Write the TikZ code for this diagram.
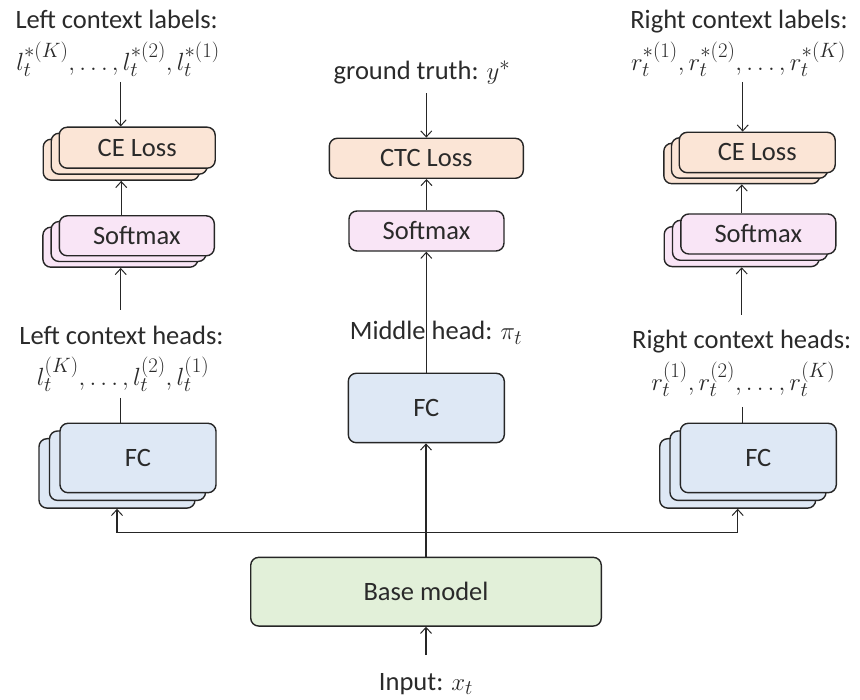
\documentclass[tikz,border=0pt]{standalone}
\usepackage{fontspec}
\setmainfont{Carlito}
\usetikzlibrary{arrows.meta}
\definecolor{txt}{HTML}{2A2A2A}
\definecolor{edge}{HTML}{262626}
\definecolor{lossfill}{HTML}{FBE5D6}
\definecolor{smfill}{HTML}{F9E5F6}
\definecolor{fcfill}{HTML}{DEE8F5}
\definecolor{basefill}{HTML}{E2F0D9}
\newcommand\mymath[1]{{\fontsize{31}{34}\selectfont$#1$}}
\begin{document}
\begin{tikzpicture}[x=1pt,y=-1pt,
  font=\fontsize{26.5}{30}\selectfont, text=txt,
  blk/.style={draw=edge, line width=1.4pt, rounded corners=8pt, inner sep=0pt, text=txt},
  loss/.style={blk, fill=lossfill, minimum width=156pt, minimum height=41pt},
  smx/.style={blk, fill=smfill, minimum width=155pt, minimum height=40pt},
  fcb/.style={blk, fill=fcfill, minimum width=156pt, minimum height=69.4pt},
  lbl/.style={anchor=base, inner sep=0pt},
  conn/.style={draw=edge, line width=1.1pt},
  arr/.style={conn, -{Straight Barb[length=6pt,width=11pt,line width=1pt]}}
]
\useasboundingbox (0,0) rectangle (860,700);

% ---------------- left column ----------------
\node[lbl] (tLL) at (116.7,29) {Left context labels:};
\node[lbl] (mLL) at (118,71) {\mymath{l_t^{*(K)}, \dots, l_t^{*(2)}, l_t^{*(1)}}};
\node[loss] (ceL3) at (121.2,159.7) {};
\node[loss] (ceL2) at (129.2,153.7) {};
\node[loss] (ceL1) at (137.2,147.7) {CE Loss};
\node[smx] (smL3) at (120.4,247.2) {};
\node[smx] (smL2) at (128.6,241.5) {};
\node[smx] (smL1) at (136.8,235.8) {Softmax};
\node[lbl] (tLH) at (121.5,345) {Left context heads:};
\node[lbl] (mLH) at (123,386) {\mymath{l_t^{(K)}, \dots, l_t^{(2)}, l_t^{(1)}}};
\node[fcb] (fcL3) at (117,473.4) {};
\node[fcb] (fcL2) at (127.5,465.7) {};
\node[fcb] (fcL1) at (138,458) {FC};

\coordinate (aLL) at (120.7,82);
\coordinate (aLH) at (120.7,310);
\coordinate (bLH) at (120.7,398);
\draw[arr] (aLL) -- (aLL |- ceL1.north);
\draw[arr] (smL1.north -| ceL3.south) -- (ceL3.south);
\draw[arr] (aLH) -- (aLH |- smL3.south);
\draw[conn] (bLH) -- (bLH |- fcL1.north);

% ---------------- right column ----------------
\node[lbl] (tRL) at (739,29) {Right context labels:};
\node[lbl] (mRL) at (738.5,71) {\mymath{r_t^{*(1)}, r_t^{*(2)}, \dots, r_t^{*(K)}}};
\node[loss, minimum height=40.4pt] (ceR3) at (741.8,163.5) {};
\node[loss, minimum height=40.4pt] (ceR2) at (749.5,158) {};
\node[loss, minimum height=40.4pt] (ceR1) at (757.2,152.5) {CE Loss};
\node[smx] (smR3) at (741.7,246.6) {};
\node[smx] (smR2) at (750,240.3) {};
\node[smx] (smR1) at (758.3,234) {Softmax};
\node[lbl] (tRH) at (741.7,349) {Right context heads:};
\node[lbl] (mRH) at (743.3,391) {\mymath{r_t^{(1)}, r_t^{(2)}, \dots, r_t^{(K)}}};
\node[fcb] (fcR3) at (737.7,473.4) {};
\node[fcb] (fcR2) at (748,465.7) {};
\node[fcb] (fcR1) at (758.3,458) {FC};

\coordinate (aRL) at (742.7,82);
\coordinate (aRH) at (741.7,315);
\coordinate (bRH) at (742.7,407);
\draw[arr] (aRL) -- (aRL |- ceR1.north);
\draw[arr] (smR1.north -| ceR3.south) -- (ceR3.south);
\draw[arr] (aRH) -- (aRH |- smR3.south);
\draw[conn] (bRH) -- (bRH |- fcR1.north);

% ---------------- middle column ----------------
\node[lbl] (tGT) at (422,80) {ground truth: \mymath{y^*}};
\node[blk, fill=lossfill, minimum width=194pt, minimum height=40pt] (ctc) at (426.3,158.3) {CTC Loss};
\node[smx] (smM) at (426.5,231) {Softmax};
\node[lbl] (tMH) at (436,340) {Middle head: \mymath{\pi_t}};
\node[fcb] (fcM) at (426.3,408) {FC};
\node[blk, fill=basefill, minimum width=350.6pt, minimum height=68.7pt] (base) at (426,591.7) {Base model};
\node[lbl] (tIn) at (426,690) {Input: \mymath{x_t}};

\coordinate (aGT) at (426.3,93.3);
\coordinate (aIn) at (426,655);
\coordinate (jn) at (426,532.7);
\draw[arr] (aGT) -- (aGT |- ctc.north);
\draw[arr] (smM.north) -- (smM.north |- ctc.south);
\draw[arr] (fcM.north) -- (fcM.north |- smM.south);
\draw[arr] (base.north) -- (base.north |- fcM.south);
\draw[arr] (aIn) -- (aIn |- base.south);
\draw[arr] (jn) -| (fcL3.south);
\draw[arr] (jn) -| (fcR3.south);
\end{tikzpicture}
\end{document}
